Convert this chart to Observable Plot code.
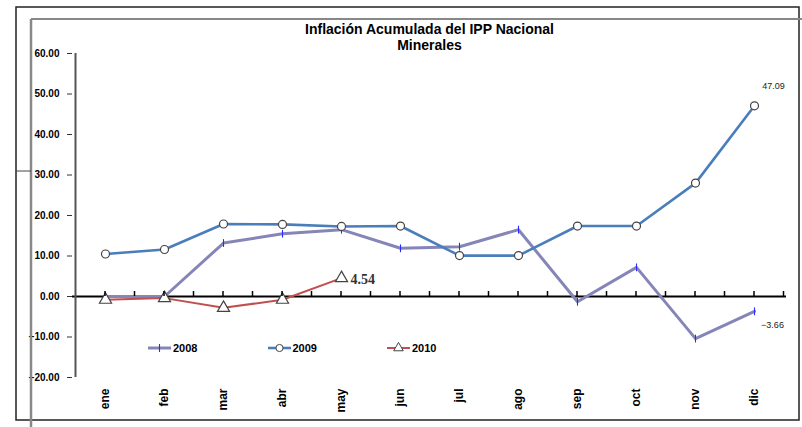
<!DOCTYPE html>
<html><head><meta charset="utf-8">
<script src="https://cdn.jsdelivr.net/npm/d3@7"></script>
<script src="https://cdn.jsdelivr.net/npm/@observablehq/plot@0.6"></script>
<style>
body{margin:0;background:#fff;}
#wrap{position:relative;width:802px;height:427px;font-family:"Liberation Sans",Arial,sans-serif;}
#legend{position:absolute;left:148px;top:342px;display:flex;}
#legend .item{width:119.5px;display:flex;align-items:center;font-size:11px;font-weight:bold;color:#000;}
</style></head><body><div id="wrap"></div>
<script>
const months = ["ene","feb","mar","abr","may","jun","jul","ago","sep","oct","nov","dic"];
const years = ["2008","2009","2010"];
const v2008 = [0.0, 0.0, 13.2, 15.5, 16.5, 11.9, 12.3, 16.5, -1.3, 7.2, -10.4, -3.66];
const v2009 = [10.5, 11.6, 17.9, 17.8, 17.3, 17.4, 10.1, 10.1, 17.4, 17.4, 28.0, 47.09];
const v2010 = [-0.8, -0.4, -2.8, -0.8, 4.54];
const yTicks = [-20, -10, 0, 10, 20, 30, 40, 50, 60];
const titleLines = ["Inflación Acumulada del IPP Nacional", "Minerales"];
const lineColors = ["#8585b8", "#4a7ebb", "#c0504d"];
const lineWidths = [3, 2.6, 2];

const series = [v2008, v2009, v2010];
const rows = series.flatMap((vals, s) => vals.map((v, i) => ({month: months[i], year: years[s], value: v})));
const r2008 = rows.filter(d => d.year === "2008");
const r2009 = rows.filter(d => d.year === "2009");
const r2010 = rows.filter(d => d.year === "2010");

const vbar = {draw(ctx, size){ const h = Math.sqrt(size) * 0.55; ctx.moveTo(0, -h); ctx.lineTo(0, h); }};

const plot = Plot.plot({
  width: 802, height: 427,
  marginLeft: 72, marginRight: 16, marginTop: 53, marginBottom: 50,
  style: {fontFamily: "'Liberation Sans', Arial, sans-serif", background: "transparent"},
  x: {type: "point", domain: months, padding: 0.5, label: null},
  y: {domain: [-20, 60], label: null},
  marks: [
    Plot.axisY({ticks: yTicks, tickFormat: d3.format(".2f"), tickSize: 5, tickPadding: 8, fontWeight: "bold", fontSize: 10, label: null, stroke: "#333"}),
    Plot.axisX({tickRotate: -90, tickSize: 0, tickPadding: 11, fontWeight: "bold", fontSize: 12, label: null}),
    Plot.ruleY([0], {stroke: "#000", strokeWidth: 2}),
    Plot.line(r2008, {x: "month", y: "value", stroke: lineColors[0], strokeWidth: lineWidths[0]}),
    Plot.line(r2009, {x: "month", y: "value", stroke: lineColors[1], strokeWidth: lineWidths[1]}),
    Plot.line(r2010, {x: "month", y: "value", stroke: lineColors[2], strokeWidth: lineWidths[2]}),
    Plot.dot(r2008, {x: "month", y: "value", symbol: vbar, r: 4, stroke: "#2a2aff", strokeWidth: 1.1, fill: "none"}),
    Plot.dot(r2009, {x: "month", y: "value", symbol: "circle", r: 4, fill: "#fff", stroke: "#444", strokeWidth: 1.2}),
    Plot.dot(r2010, {x: "month", y: "value", symbol: "triangle", r: 4.5, fill: "#fff", stroke: "#444", strokeWidth: 1.2}),
    Plot.text(r2009.slice(-1), {x: "month", y: "value", text: d => d3.format(".2f")(d.value), dx: 19, dy: -20, fontSize: 9, fill: "#222"}),
    Plot.text(r2008.slice(-1), {x: "month", y: "value", text: d => d3.format(".2f")(d.value), dx: 18, dy: 14, fontSize: 9, fill: "#222"}),
    Plot.text(r2010.slice(-1), {x: "month", y: "value", text: d => d3.format(".2f")(d.value), dx: 9, dy: 1, textAnchor: "start", fontSize: 14, fontWeight: "bold", fontFamily: "'Liberation Serif', serif", fill: "#333"}),
    Plot.text([titleLines[0]], {frameAnchor: "top", text: d => d, dy: -29, fontSize: 14, fontWeight: "bold", fill: "#000"}),
    Plot.text([titleLines[1]], {frameAnchor: "top", text: d => d, dy: -13, fontSize: 14, fontWeight: "bold", fill: "#000"})
  ]
});

const wrap = document.getElementById("wrap");
wrap.appendChild(plot);

// decorations derived from scales
const svg = d3.select(plot);
const xs = plot.scale("x"), ys = plot.scale("y");
const yTop = ys.apply(60), yBot = ys.apply(-20), y0 = ys.apply(0);
const step = (xs.apply(months[1]) - xs.apply(months[0]));
const xLeft = xs.apply(months[0]) - step / 2;
const deco = svg.append("g");
deco.append("line").attr("x1", xLeft).attr("x2", xLeft).attr("y1", yTop).attr("y2", yBot).attr("stroke", "#555").attr("stroke-width", 2);
const tickXs = [];
months.forEach((m, i) => { const c = xs.apply(m); tickXs.push(c - step / 2, c); if (i === months.length - 1) tickXs.push(c + step / 2); });
tickXs.slice(1).forEach(x => deco.append("line").attr("x1", x).attr("x2", x).attr("y1", y0).attr("y2", y0 - 5).attr("stroke", "#000").attr("stroke-width", 1.5));
// frames
deco.append("rect").attr("x", 16).attr("y", 7).attr("width", 783).attr("height", 413).attr("fill", "none").attr("stroke", "#222").attr("stroke-width", 1.5);
deco.append("line").attr("x1", 31).attr("x2", 31).attr("y1", 19).attr("y2", 427).attr("stroke", "#888").attr("stroke-width", 2.5);
deco.append("line").attr("x1", 31).attr("x2", 802).attr("y1", 19).attr("y2", 19).attr("stroke", "#888").attr("stroke-width", 2);
deco.append("line").attr("x1", 16).attr("x2", 31).attr("y1", 171).attr("y2", 171).attr("stroke", "#444").attr("stroke-width", 1);

// legend
const legend = document.createElement("div");
legend.id = "legend";
const legendSymbols = ["bar", "circle", "triangle"];
years.forEach((y, i) => {
  const item = document.createElement("div");
  item.className = "item";
  const s = d3.create("svg").attr("width", 24).attr("height", 12).style("margin-right", "1px");
  s.append("line").attr("x1", 0).attr("x2", 23).attr("y1", 6).attr("y2", 6).attr("stroke", lineColors[i]).attr("stroke-width", lineWidths[i]);
  if (legendSymbols[i] === "bar") s.append("line").attr("x1", 11.5).attr("x2", 11.5).attr("y1", 2).attr("y2", 10).attr("stroke", "#2a2aff").attr("stroke-width", 1.1);
  else s.append("path").attr("transform", "translate(11.5,6)").attr("d", d3.symbol(legendSymbols[i] === "circle" ? d3.symbolCircle : d3.symbolTriangle, 40)()).attr("fill", "#fff").attr("stroke", "#444");
  item.appendChild(s.node());
  const t = document.createElement("span");
  t.textContent = y;
  item.appendChild(t);
  legend.appendChild(item);
});
wrap.appendChild(legend);
</script></body></html>
